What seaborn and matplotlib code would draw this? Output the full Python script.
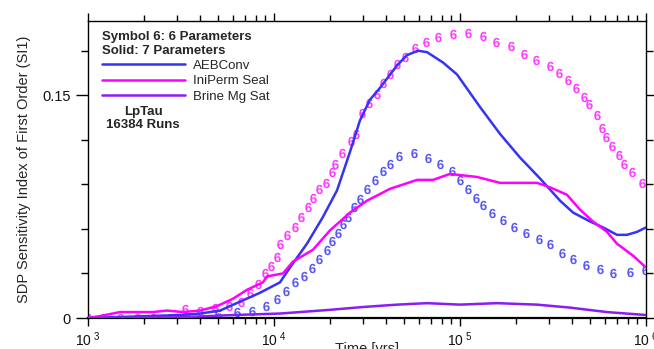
import numpy as np
import pandas as pd
import matplotlib
matplotlib.use("Agg")
import matplotlib.pyplot as plt
import seaborn as sns
from matplotlib.ticker import FixedLocator, LogLocator, NullFormatter, FuncFormatter

# ---------------- data (log10 of time in years, SI1 values) ----------------
aeb7_logt = [3.0, 3.495, 3.602, 3.710, 3.817, 3.925, 4.032, 4.086, 4.177, 4.263, 4.339,
             4.409, 4.462, 4.516, 4.570, 4.661, 4.715, 4.774, 4.823, 4.909, 4.984, 5.108,
             5.215, 5.323, 5.430, 5.538, 5.608, 5.699, 5.769, 5.844, 5.898, 5.952, 6.0]
aeb7_si = [0.0, 0.002, 0.003, 0.005, 0.011, 0.017, 0.024, 0.034, 0.050, 0.068, 0.086,
           0.112, 0.133, 0.147, 0.155, 0.170, 0.177, 0.180, 0.179, 0.172, 0.164, 0.142,
           0.124, 0.108, 0.094, 0.079, 0.071, 0.065, 0.061, 0.056, 0.056, 0.058, 0.061]

ini7_logt = [3.0, 3.065, 3.172, 3.242, 3.349, 3.425, 3.511, 3.602, 3.694, 3.780, 3.855,
             3.941, 3.962, 4.048, 4.102, 4.210, 4.301, 4.409, 4.500, 4.624, 4.769, 4.855,
             4.946, 5.091, 5.215, 5.414, 5.484, 5.575, 5.645, 5.715, 5.790, 5.844, 5.930, 6.0]
ini7_si = [0.0, 0.0013, 0.004, 0.004, 0.004, 0.005, 0.004, 0.005, 0.008, 0.013, 0.019,
           0.024, 0.028, 0.030, 0.038, 0.046, 0.059, 0.071, 0.079, 0.087, 0.093, 0.093,
           0.097, 0.095, 0.091, 0.091, 0.088, 0.083, 0.073, 0.065, 0.058, 0.050, 0.042, 0.034]

brine7_logt = [3.0, 3.5, 3.780, 4.032, 4.301, 4.478, 4.661, 4.823, 5.0, 5.199, 5.414,
               5.591, 5.790, 6.0]
brine7_si = [0.0, 0.0005, 0.002, 0.003, 0.0055, 0.0074, 0.009, 0.010, 0.009, 0.010, 0.009,
             0.007, 0.004, 0.002]

ini6_logt = [3.0, 3.081, 3.172, 3.263, 3.349, 3.522, 3.602, 3.683, 3.758, 3.823, 3.871,
             3.914, 3.952, 3.984, 4.016, 4.032, 4.070, 4.113, 4.145, 4.183, 4.210, 4.242,
             4.280, 4.312, 4.328, 4.366, 4.414, 4.441, 4.473, 4.511, 4.554, 4.586, 4.624,
             4.661, 4.704, 4.758, 4.817, 4.882, 4.962, 5.043, 5.124, 5.194, 5.274, 5.344,
             5.409, 5.484, 5.532, 5.581, 5.624, 5.667, 5.694, 5.737, 5.763, 5.785, 5.817,
             5.855, 5.882, 5.925, 5.978]
ini6_si = [0.0, 0.0, 0.0, 0.0, 0.0, 0.006, 0.005, 0.007, 0.008, 0.011, 0.017,
           0.023, 0.030, 0.035, 0.041, 0.050, 0.056, 0.061, 0.068, 0.075, 0.081, 0.087,
           0.091, 0.098, 0.104, 0.111, 0.119, 0.124, 0.138, 0.145, 0.151, 0.158, 0.164,
           0.171, 0.176, 0.182, 0.186, 0.189, 0.191, 0.192, 0.190, 0.186, 0.183, 0.178,
           0.174, 0.170, 0.165, 0.160, 0.155, 0.149, 0.144, 0.137, 0.128, 0.122, 0.116,
           0.110, 0.104, 0.098, 0.091]

aeb6_logt = [3.441, 3.532, 3.699, 3.801, 3.882, 3.957, 4.016, 4.065, 4.113, 4.161, 4.204,
             4.242, 4.285, 4.312, 4.344, 4.371, 4.398, 4.430, 4.462, 4.500, 4.543, 4.586,
             4.624, 4.672, 4.753, 4.828, 4.892, 4.957, 5.000, 5.043, 5.086, 5.124, 5.172,
             5.231, 5.290, 5.355, 5.425, 5.484, 5.548, 5.608, 5.677, 5.753, 5.823, 5.914, 5.995]
aeb6_si = [0.0, 0.0, 0.003, 0.004, 0.005, 0.008, 0.013, 0.018, 0.024, 0.028, 0.034,
           0.040, 0.046, 0.052, 0.057, 0.063, 0.068, 0.075, 0.080, 0.087, 0.093, 0.099,
           0.104, 0.109, 0.111, 0.108, 0.104, 0.099, 0.093, 0.087, 0.081, 0.076, 0.071,
           0.066, 0.061, 0.057, 0.053, 0.050, 0.044, 0.040, 0.036, 0.033, 0.030, 0.031, 0.032]

series_labels = ["AEBConv", "IniPerm Seal", "Brine Mg Sat"]
ytick_values = [0.0, 0.03, 0.06, 0.09, 0.12, 0.15, 0.18]
ytick_labeled = {0.0: "0", 0.15: "0.15"}

BLUE = "#3434f4"
BLUE_M = "#5a5af2"
MAGENTA = "#ff00ff"
MAGENTA_M = "#ff3cff"
PURPLE = "#8a1cf4"

# ---------------- style ----------------
sns.set_style("ticks")
plt.rcParams["font.family"] = ["Liberation Sans", "DejaVu Sans"]
plt.rcParams["mathtext.fontset"] = "custom"
plt.rcParams["mathtext.rm"] = "Liberation Sans"
plt.rcParams["mathtext.it"] = "Liberation Sans:italic"
plt.rcParams["mathtext.bf"] = "Liberation Sans:bold"

fig = plt.figure(figsize=(6.54, 3.49), dpi=100)
ax = fig.add_axes([88 / 654, 31 / 349, 558 / 654, 297 / 349])


def df_of(logt, si):
    return pd.DataFrame({"t": np.power(10.0, logt), "si": si})


# symbol series (6 parameters)
sns.scatterplot(data=df_of(ini6_logt, ini6_si), x="t", y="si", ax=ax, marker="$\\mathbf{6}$",
                s=46, color=MAGENTA_M, linewidth=0, zorder=2)
sns.scatterplot(data=df_of(aeb6_logt, aeb6_si), x="t", y="si", ax=ax, marker="$\\mathbf{6}$",
                s=46, color=BLUE_M, linewidth=0, zorder=2)

# solid series (7 parameters)
sns.lineplot(data=df_of(aeb7_logt, aeb7_si), x="t", y="si", ax=ax, color=BLUE, lw=1.8,
             label=series_labels[0], zorder=3)
sns.lineplot(data=df_of(ini7_logt, ini7_si), x="t", y="si", ax=ax, color=MAGENTA, lw=1.8,
             label=series_labels[1], zorder=3)
sns.lineplot(data=df_of(brine7_logt, brine7_si), x="t", y="si", ax=ax, color=PURPLE, lw=1.8,
             label=series_labels[2], zorder=3)

ax.set_xscale("log")
ax.set_xlim(1e3, 1e6)
ax.set_ylim(0, 0.2)

# ticks
ax.xaxis.set_major_locator(LogLocator(base=10, numticks=10))
ax.xaxis.set_minor_locator(LogLocator(base=10, subs=np.arange(2, 10), numticks=20))
ax.xaxis.set_minor_formatter(NullFormatter())
ax.xaxis.set_major_formatter(FuncFormatter(lambda v, p: "10$^{\\ %d}$" % round(np.log10(v))))
ax.yaxis.set_major_locator(FixedLocator(list(ytick_labeled.keys())))
ax.yaxis.set_minor_locator(FixedLocator([v for v in ytick_values if v not in ytick_labeled]))
ax.yaxis.set_major_formatter(FuncFormatter(lambda v, p: ytick_labeled.get(round(v, 2), "")))

ax.tick_params(axis="both", which="both", direction="out", color="black", labelsize=10.5,
               top=True, right=True, labelcolor="#111111")
ax.tick_params(axis="x", which="major", labelsize=10)
ax.tick_params(axis="y", which="major", length=9, width=1)
ax.tick_params(axis="y", which="minor", length=5, width=1)
ax.tick_params(axis="x", which="major", length=6, width=1, pad=3)
ax.tick_params(axis="x", which="minor", length=4, width=1)
for s in ax.spines.values():
    s.set_color("black")
    s.set_linewidth(1.0)
ax.spines["bottom"].set_linewidth(1.6)

ax.set_xlabel("Time [yrs]", fontsize=10.5, labelpad=-5)
ax.set_ylabel("SDP Sensitivity Index of First Order (SI1)", fontsize=10.5, labelpad=8)

# annotations
ax.text(0.025, 0.965, "Symbol 6: 6 Parameters\nSolid: 7 Parameters", transform=ax.transAxes,
        fontsize=9.5, fontweight="bold", va="top", ha="left", linespacing=1.15)
ax.text(0.099, 0.715, "LpTau\n16384 Runs", transform=ax.transAxes, fontsize=9.5,
        fontweight="bold", va="top", ha="center", linespacing=1.2)
leg = ax.legend(loc="upper left", bbox_to_anchor=(0.016, 0.888), frameon=False, fontsize=9.5,
                handlelength=6.3, handletextpad=0.55, labelspacing=0.25, borderaxespad=0)

fig.savefig("out.png", dpi=100)
